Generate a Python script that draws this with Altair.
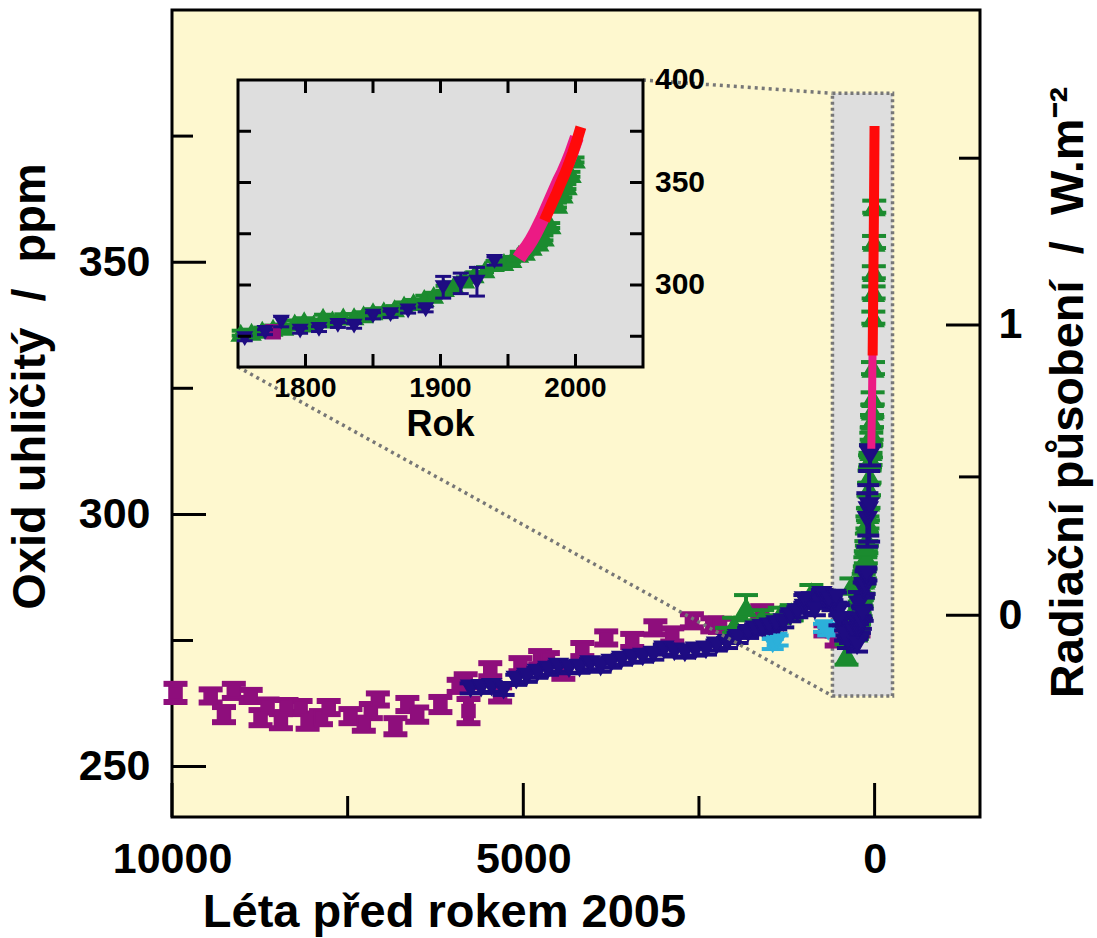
import altair as alt
import numpy as np
import pandas as pd

# ---------------- layout ----------------
W, H = 808, 807
PAD = {"left": 172, "top": 10, "right": 117, "bottom": 121}
FONT = "Liberation Sans"

MAIN_X_DOMAIN = [-1500, 10000]      # years before 2005 (reversed axis)
MAIN_Y_DOMAIN = [240, 400]          # ppm
INSET_X_DOMAIN = [1750, 2050]       # AD
INSET_Y_DOMAIN = [260, 400]
INSET_X_RANGE = [66, 471]           # pixels inside the plot area
INSET_Y_RANGE = [357, 70]
REF_YEAR = 2005

# ---------------- tick / label values ----------------
X_MAJOR = [10000, 5000, 0]
X_MINOR = [7500, 2500]
Y_MAJOR = [250, 300, 350]
Y_MINOR = [275, 325, 375]
RF_MAJOR = [0, 1]
RF_MINOR = [0.5, 1.5]
RF_C0, RF_K = 280.0, 5.35
INSET_X_TICKS = [1800, 1850, 1900, 1950, 2000]
INSET_X_LABELS = [1800, 1900, 2000]
INSET_Y_TICKS = [275, 300, 325, 350, 375]
INSET_Y_LABELS = [300, 350, 400]

# zoom box on the main panel (years before 2005, ppm)
BOX_AGE = [600, -255]
BOX_CO2 = [264, 383.5]

# ---------------- data ----------------
purple_age = [9950, 9450, 9260, 9120, 8880, 8740, 8640, 8450, 8370, 8170, 8070, 7880, 7770,
              7460, 7270, 7170, 7070, 6820, 6650, 6510, 6180, 5920, 5820, 5780, 5470, 5330,
              5040, 4760, 4650, 4430, 4160, 3820, 3450, 3120, 2880, 2600, 2310, 2200, 1600,
              700, 540, 229]
purple_co2 = [264.6, 264.0, 260.3, 265.0, 264.0, 259.7, 262.0, 259.0, 262.0, 261.7, 259.0, 259.7,
              261.7, 260.0, 258.4, 261.0, 263.3, 258.0, 262.3, 260.3, 262.3, 266.0, 267.0, 261.0,
              269.2, 264.3, 270.2, 271.6, 271.2, 268.8, 273.2, 275.5, 275.0, 277.5, 276.1, 278.9,
              278.1, 278.0, 280.5, 277.0, 275.0, 277.2]
purple_err = [1.8, 1.3, 1.5, 1.4, 1.2, 1.5, 1.3, 1.4, 1.2, 1.3, 1.5, 1.3, 1.3, 1.4, 1.3, 1.4, 1.2,
              1.6, 1.3, 1.4, 1.5, 1.2, 1.3, 2.4, 1.3, 1.4, 1.3, 1.3, 1.3, 1.4, 1.3, 1.3, 1.3, 1.3,
              1.3, 1.3, 1.3, 1.3, 1.3, 1.0, 1.0, 1.2]

blue_age = [5750, 5600, 5450, 5280, 5100, 4950, 4800, 4650, 4500, 4350, 4200, 4050, 3900, 3750,
            3600, 3450, 3300, 3150, 3000, 2850, 2700, 2550, 2400, 2250, 2100, 1950, 1800, 1700,
            1600, 1500, 1400, 1300, 1200, 1100, 1000, 900, 800, 700, 600, 500, 450, 400, 350, 300,
            1000, 850, 750, 650, 550, 500, 420, 380, 320, 280]
blue_co2 = [265.5, 265.6, 265.8, 265.2, 267.2, 267.8, 268.6, 269.2, 269.8, 269.5, 269.6, 270.3,
            269.8, 270.6, 271.2, 271.6, 271.8, 272.2, 273.2, 272.8, 272.6, 273.0, 273.2, 274.0,
            274.5, 275.5, 276.5, 277.2, 277.5, 277.8, 278.2, 278.6, 279.8, 280.6, 281.5, 283.0,
            282.5, 283.5, 282.0, 281.0, 279.0, 277.0, 275.5, 276.0,
            283.0, 281.0, 284.0, 283.0, 283.5, 279.0, 276.0, 274.5, 277.0, 279.0]
blue_err = [1.0] * len(blue_age)

blue_ad = [1755, 1770, 1782, 1796, 1810, 1824, 1836, 1850, 1863, 1876, 1889, 1902, 1915, 1927, 1940]
blue_ad_co2 = [274.0, 277.0, 282.1, 277.7, 278.5, 280.5, 280.1, 285.0, 285.7, 287.5, 288.1,
               298.9, 300.8, 301.6, 311.7]
blue_ad_err = [1.2, 1.2, 2.5, 1.2, 1.2, 1.2, 1.2, 1.5, 1.5, 1.2, 1.2, 5.3, 5.0, 7.0, 2.0]

green_age = [2100, 2000, 1830, 1600, 1500, 1350, 1180, 900, 600, 400, 330]
green_co2 = [276.0, 278.0, 281.5, 279.5, 278.5, 280.0, 280.5, 284.5, 283.0, 272.2, 285.8]
green_err = [1.5, 1.5, 2.5, 1.5, 1.5, 1.5, 1.5, 1.5, 1.5, 2.0, 1.5]

green_ad = [1752, 1760, 1768, 1776, 1784, 1792, 1799, 1806, 1813, 1820, 1828, 1836, 1843, 1850,
            1858, 1866, 1873, 1880, 1888, 1895, 1903, 1910, 1918, 1925, 1933, 1940, 1947, 1953,
            1958, 1963, 1968, 1973, 1977, 1982, 1987, 1991, 1994, 1997, 2000]
green_ad_co2 = [276.5, 277.0, 278.0, 279.0, 279.5, 281.5, 282.6, 281.0, 284.3, 283.0, 284.5,
                284.6, 285.5, 287.0, 287.5, 288.5, 290.3, 291.5, 293.5, 295.0, 298.4, 300.0,
                302.5, 305.0, 307.5, 310.5, 311.0, 312.5, 315.0, 316.0, 318.5, 320.5, 323.0,
                329.0, 339.0, 344.0, 348.0, 354.0, 361.0]
green_ad_err = [1.2] * len(green_ad)

cyan_age = [1450, 1380, 720, 660]
cyan_co2 = [274.3, 275.0, 277.5, 276.8]
cyan_err = [1.0, 1.0, 0.8, 0.8]

pink_ad = [1958, 1961, 1964, 1967, 1970, 1973, 1976, 1979, 1982, 1985, 1988, 1991, 1994, 1997, 2001]
pink_co2 = [313.0, 316.0, 318.5, 321.5, 325.0, 329.0, 333.0, 337.5, 342.0, 346.5, 351.0, 355.0,
            359.5, 364.5, 372.0]

red_ad = [1977, 1980, 1983, 1986, 1989, 1992, 1995, 1998, 2001, 2004]
red_co2 = [331.5, 336.0, 340.5, 344.7, 349.5, 354.0, 359.0, 364.5, 370.5, 377.0]

COL = {"purple": "#8E0E7C", "blue": "#1E0C82", "green": "#1B8B2F", "cyan": "#2CB0DA",
       "pink": "#EC1A84", "red": "#FF0A0A"}
BG = "#FEF8CF"
INSET_BG = "#DEDEDE"
DOT = "#777777"


# ---------------- helpers ----------------
def table(x, co2, err=None, xname="age"):
    d = pd.DataFrame({xname: x, "co2": co2})
    if err is not None:
        d["lo"] = d["co2"] - np.asarray(err)
        d["hi"] = d["co2"] + np.asarray(err)
    if xname == "ad":
        d["age"] = REF_YEAR - d["ad"]
    return d


def MX(f="age", axis=None):
    return alt.X(f, type="quantitative", axis=axis,
                 scale=alt.Scale(domain=MAIN_X_DOMAIN, reverse=True, nice=False, zero=False))


def MY(f="co2", axis=None):
    return alt.Y(f, type="quantitative", axis=axis,
                 scale=alt.Scale(domain=MAIN_Y_DOMAIN, nice=False, zero=False))


def IX(f="ad"):
    return alt.X(f, type="quantitative", axis=None,
                 scale=alt.Scale(domain=INSET_X_DOMAIN, range=INSET_X_RANGE, nice=False, zero=False))


def IY(f="co2"):
    return alt.Y(f, type="quantitative", axis=None,
                 scale=alt.Scale(domain=INSET_Y_DOMAIN, range=INSET_Y_RANGE, nice=False, zero=False))


def errseries(df, xf, yf, color, shape, size, cap_w, cap_t, stem_w, xfield):
    base = alt.Chart(df)
    return [
        base.mark_rule(color=color, strokeWidth=stem_w).encode(x=xf(xfield), y=yf("lo"), y2="hi"),
        base.mark_tick(color=color, orient="horizontal", size=cap_w, thickness=cap_t, opacity=1)
            .encode(x=xf(xfield), y=yf("lo")),
        base.mark_tick(color=color, orient="horizontal", size=cap_w, thickness=cap_t, opacity=1)
            .encode(x=xf(xfield), y=yf("hi")),
        base.mark_point(shape=shape, filled=True, size=size, color=color, opacity=1,
                        stroke=color, strokeWidth=1.5)
            .encode(x=xf(xfield), y=yf("co2")),
    ]


def lin(v, dom, rng):
    return rng[0] + (v - dom[0]) * (rng[1] - rng[0]) / (dom[1] - dom[0])


# ---------------- tables ----------------
purple_df = table(purple_age, purple_co2, purple_err)
purple_df["ad"] = REF_YEAR - purple_df["age"]
blue_old = table(blue_age, blue_co2, blue_err)
blue_new = table(blue_ad, blue_ad_co2, blue_ad_err, xname="ad")
blue_all = pd.concat([blue_old, blue_new], ignore_index=True)
green_old = table(green_age, green_co2, green_err)
green_new = table(green_ad, green_ad_co2, green_ad_err, xname="ad")
green_all = pd.concat([green_old, green_new], ignore_index=True)
cyan_df = table(cyan_age, cyan_co2, cyan_err)
pink_df = table(pink_ad, pink_co2, xname="ad")
red_df = table(red_ad, red_co2, xname="ad")

layers = []

# plot-area zoom box (dotted, grey)
box_df = pd.DataFrame({"a1": [BOX_AGE[0]], "a2": [BOX_AGE[1]], "c1": [BOX_CO2[0]], "c2": [BOX_CO2[1]]})
layers.append(alt.Chart(box_df).mark_rect(fill=INSET_BG, stroke=DOT, strokeWidth=3.5, strokeDash=[3, 3])
              .encode(x=MX("a1"), x2="a2", y=MY("c1"), y2="c2"))

# main-panel data
layers += errseries(purple_df, MX, MY, COL["purple"], "square", 170, 24, 6, 11, "age")
layers += errseries(green_all, MX, MY, COL["green"], "triangle-up", 420, 24, 4, 4, "age")
layers += errseries(cyan_df, MX, MY, COL["cyan"], "triangle-down", 330, 22, 4, 4, "age")
layers += errseries(blue_all, MX, MY, COL["blue"], "triangle-down", 360, 22, 4, 4, "age")
layers.append(alt.Chart(pink_df).mark_line(color=COL["pink"], strokeWidth=8)
              .encode(x=MX("age"), y=MY("co2"), order="ad:Q"))
layers.append(alt.Chart(red_df).mark_line(color=COL["red"], strokeWidth=10)
              .encode(x=MX("age"), y=MY("co2"), order="ad:Q"))

# dotted connectors (pixel positions from the two coordinate systems)
conn = pd.DataFrame({
    "x0": [lin(INSET_X_DOMAIN[1], INSET_X_DOMAIN, INSET_X_RANGE), lin(INSET_X_DOMAIN[0], INSET_X_DOMAIN, INSET_X_RANGE)],
    "y0": [lin(INSET_Y_DOMAIN[1], INSET_Y_DOMAIN, INSET_Y_RANGE), lin(INSET_Y_DOMAIN[0], INSET_Y_DOMAIN, INSET_Y_RANGE)],
    "x1": [lin(BOX_AGE[0], MAIN_X_DOMAIN[::-1], [0, W])] * 2,
    "y1": [lin(BOX_CO2[1], MAIN_Y_DOMAIN, [H, 0]), lin(BOX_CO2[0], MAIN_Y_DOMAIN, [H, 0])],
})
layers.append(alt.Chart(conn).mark_rule(color=DOT, strokeWidth=3.5, strokeDash=[3, 4])
              .encode(x=alt.X("x0:Q", scale=None), y=alt.Y("y0:Q", scale=None),
                      x2="x1:Q", y2="y1:Q"))

# inset frame
frame_df = pd.DataFrame({"a1": [INSET_X_DOMAIN[0]], "a2": [INSET_X_DOMAIN[1]],
                         "c1": [INSET_Y_DOMAIN[0]], "c2": [INSET_Y_DOMAIN[1]]})
layers.append(alt.Chart(frame_df).mark_rect(fill=INSET_BG, stroke="black", strokeWidth=3)
              .encode(x=IX("a1"), x2="a2", y=IY("c1"), y2="c2"))

# inset data
inset_green = green_new
inset_blue = blue_new
inset_purple = purple_df[purple_df["ad"] >= INSET_X_DOMAIN[0]]
layers += errseries(inset_green, IX, IY, COL["green"], "triangle-up", 330, 18, 4, 5, "ad")
layers += errseries(inset_purple, IX, IY, COL["purple"], "square", 200, 12, 3, 7, "ad")
layers += errseries(inset_blue, IX, IY, COL["blue"], "triangle-down", 210, 16, 3, 3, "ad")
layers.append(alt.Chart(pink_df).mark_line(color=COL["pink"], strokeWidth=14)
              .encode(x=IX("ad"), y=IY("co2")))
layers.append(alt.Chart(red_df).mark_line(color=COL["red"], strokeWidth=11)
              .encode(x=IX("ad"), y=IY("co2")))

# inset ticks (inward)
ITL = 13
ixt = pd.DataFrame({"ad": INSET_X_TICKS})
iyt = pd.DataFrame({"co2": INSET_Y_TICKS})
layers.append(alt.Chart(ixt).mark_rule(color="black", strokeWidth=3)
              .encode(x=IX("ad"), y=alt.value(INSET_Y_RANGE[0]), y2=alt.value(INSET_Y_RANGE[0] - ITL)))
layers.append(alt.Chart(ixt).mark_rule(color="black", strokeWidth=3)
              .encode(x=IX("ad"), y=alt.value(INSET_Y_RANGE[1]), y2=alt.value(INSET_Y_RANGE[1] + ITL)))
layers.append(alt.Chart(iyt).mark_rule(color="black", strokeWidth=3)
              .encode(y=IY("co2"), x=alt.value(INSET_X_RANGE[0]), x2=alt.value(INSET_X_RANGE[0] + ITL)))
layers.append(alt.Chart(iyt).mark_rule(color="black", strokeWidth=3)
              .encode(y=IY("co2"), x=alt.value(INSET_X_RANGE[1]), x2=alt.value(INSET_X_RANGE[1] - ITL)))

# inset labels
ixl = pd.DataFrame({"ad": INSET_X_LABELS, "t": [str(v) for v in INSET_X_LABELS]})
iyl = pd.DataFrame({"co2": INSET_Y_LABELS, "t": [str(v) for v in INSET_Y_LABELS]})
layers.append(alt.Chart(ixl).mark_text(font=FONT, fontSize=28, fontWeight="bold", baseline="top",
                                       align="center", color="black")
              .encode(x=IX("ad"), y=alt.value(INSET_Y_RANGE[0] + 8), text="t:N"))
layers.append(alt.Chart(iyl).mark_text(font=FONT, fontSize=30, fontWeight="bold", baseline="middle",
                                       align="left", color="black")
              .encode(y=IY("co2"), x=alt.value(INSET_X_RANGE[1] + 12), text="t:N"))
rok = pd.DataFrame({"ad": [sum(INSET_X_DOMAIN) / 2], "t": ["Rok"]})
layers.append(alt.Chart(rok).mark_text(font=FONT, fontSize=36, fontWeight="bold", baseline="top",
                                       align="center", color="black")
              .encode(x=IX("ad"), y=alt.value(INSET_Y_RANGE[0] + 41), text="t:N"))

# main ticks (inward) + axes
MAJ, MIN = 34, 21
lab = dict(labelFont=FONT, labelFontSize=43, labelFontWeight="bold", labelColor="black",
           ticks=False, domain=False, grid=False, labelOverlap=False, labelFlush=False,
           titleFont=FONT, titleFontSize=47, titleFontWeight="bold", titleColor="black")

x_axis = alt.Axis(orient="bottom", values=X_MAJOR, format="d", labelPadding=21,
                  title="Léta před rokem 2005", titleX=272, titleY=95, titleBaseline="middle",
                  titleAlign="center", titleAngle=0, **lab)
y_axis = alt.Axis(orient="left", values=Y_MAJOR, format="d", labelPadding=22,
                  title="Oxid uhličitý \u00a0/\u00a0 ppm", titleX=-142, titleY=376,
                  titleAngle=270, titleBaseline="middle", titleAlign="center", **lab)
rf_major_co2 = [RF_C0 * np.exp(f / RF_K) for f in RF_MAJOR]
rf_minor_co2 = [RF_C0 * np.exp(f / RF_K) for f in RF_MINOR]
r_axis = alt.Axis(orient="right", values=rf_major_co2, labelPadding=18,
                  labelExpr=f"format({RF_K}*log(datum.value/{RF_C0}), 'd')",
                  title="Radiační působení \u00a0/\u00a0 W.m⁻²", titleX=88, titleY=382,
                  titleAngle=270, titleBaseline="middle", titleAlign="center", **lab)

layers.append(alt.Chart(pd.DataFrame({"age": X_MAJOR})).mark_rule(color="black", strokeWidth=3)
              .encode(x=MX("age", axis=x_axis), y=alt.value(H), y2=alt.value(H - MAJ)))
layers.append(alt.Chart(pd.DataFrame({"age": X_MINOR})).mark_rule(color="black", strokeWidth=3)
              .encode(x=MX("age"), y=alt.value(H), y2=alt.value(H - MIN)))
layers.append(alt.Chart(pd.DataFrame({"co2": Y_MAJOR})).mark_rule(color="black", strokeWidth=3)
              .encode(y=MY("co2", axis=y_axis), x=alt.value(0), x2=alt.value(MAJ)))
layers.append(alt.Chart(pd.DataFrame({"co2": Y_MINOR})).mark_rule(color="black", strokeWidth=3)
              .encode(y=MY("co2"), x=alt.value(0), x2=alt.value(MIN)))
layers.append(alt.Chart(pd.DataFrame({"co2": rf_major_co2})).mark_rule(color="black", strokeWidth=3)
              .encode(y=MY("co2", axis=r_axis), x=alt.value(W), x2=alt.value(W - MAJ)))
layers.append(alt.Chart(pd.DataFrame({"co2": rf_minor_co2})).mark_rule(color="black", strokeWidth=3)
              .encode(y=MY("co2"), x=alt.value(W), x2=alt.value(W - MIN)))

chart = (alt.layer(*layers)
         .resolve_scale(x="independent", y="independent")
         .properties(width=W, height=H, padding=PAD, background="white",
                     autosize=alt.AutoSizeParams(type="none"))
         .configure_view(fill=BG, stroke="black", strokeWidth=3))

chart.save("out.html", embed_options={"renderer": "svg", "actions": False})
